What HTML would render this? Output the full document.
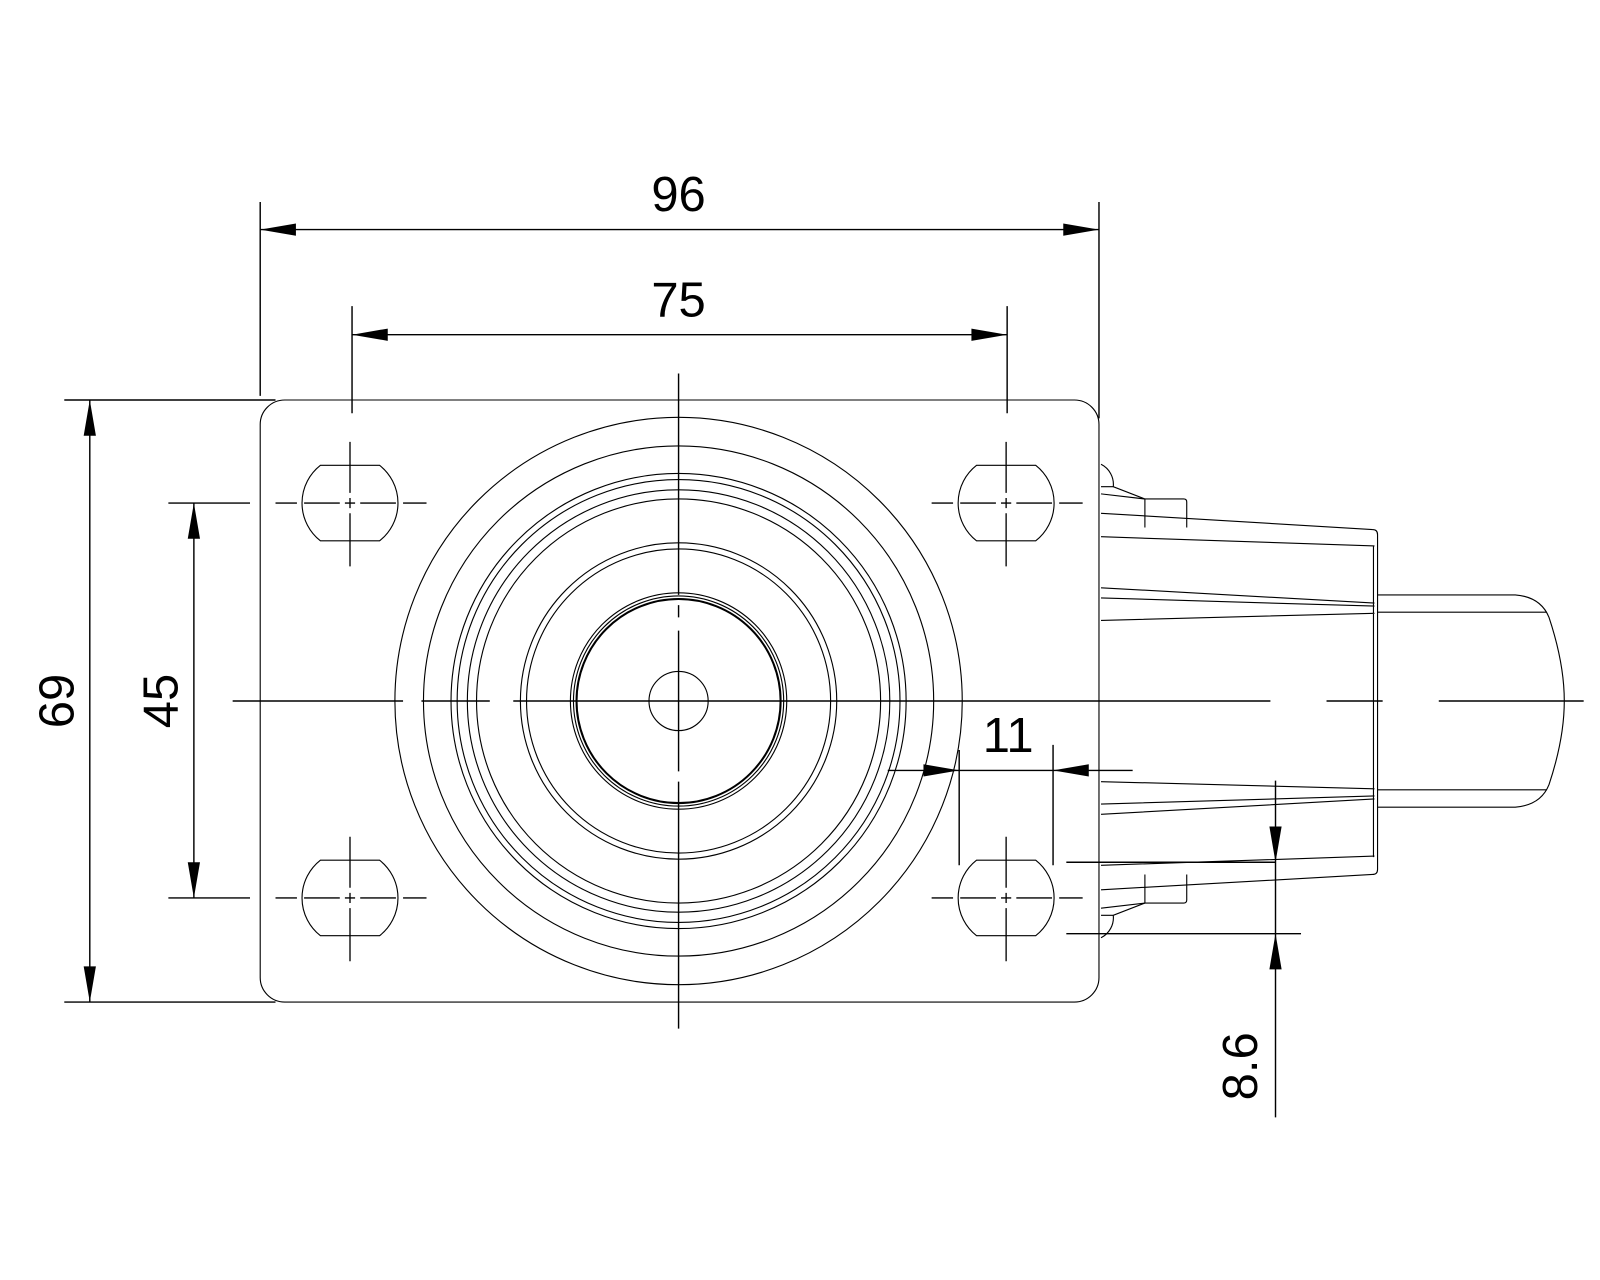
<!DOCTYPE html>
<html><head><style>html,body{margin:0;padding:0;background:#fff}svg{display:block}</style></head><body>
<svg width="1600" height="1280" viewBox="0 0 1568 1254.4" xmlns="http://www.w3.org/2000/svg">
<defs>
<g id="hole">
<path d="M-29,-37 L29,-37 A47,47 0 0 1 29,37 L-29,37 A47,47 0 0 1 -29,-37 Z" fill="none" stroke="#000" stroke-width="1.1"/>
<path d="M-73,0 H-52 M-45,0 H-10 M-5,0 H5 M10,0 H45 M52,0 H75 M0,-60 V-10 M0,-5 V5 M0,10 V62" stroke="#000" stroke-width="1.3" fill="none"/>
</g>
</defs>
<g fill="none" stroke="#000" stroke-width="1.1">
<rect x="255" y="392" width="822" height="590" rx="24"/>
<circle cx="665" cy="687" r="278"/>
<circle cx="665" cy="687" r="250"/>
<circle cx="665" cy="687" r="223"/>
<circle cx="665" cy="687" r="217"/>
<circle cx="665" cy="687" r="207"/>
<circle cx="665" cy="687" r="198"/>
<circle cx="665" cy="687" r="155"/>
<circle cx="665" cy="687" r="149"/>
<circle cx="665" cy="687" r="106"/>
<circle cx="665" cy="687" r="103"/>
<circle cx="665" cy="687" r="100" stroke-width="2"/>
<circle cx="665" cy="687" r="29"/>
</g>
<use href="#hole" x="343" y="493"/>
<use href="#hole" x="986" y="493"/>
<use href="#hole" x="343" y="880"/>
<use href="#hole" x="986" y="880"/>
<!-- fork -->
<g fill="none" stroke="#000" stroke-width="1.1">
<path d="M1079,455 A22,22 0 0 1 1091,477 M1079,919 A22,22 0 0 0 1091,897"/>
<path d="M1079,477 H1091 L1122,489 H1160 Q1163,489 1163,492 V517"/>
<path d="M1079,484 L1122,489 V517"/>
<path d="M1079,897 H1091 L1122,885 H1160 Q1163,885 1163,882 V857"/>
<path d="M1079,890 L1122,885 V857"/>
<path d="M1079,503 L1345,519 Q1350,519 1350,524 V852 Q1350,857 1345,857 L1079,872"/>
<path d="M1079,526 L1347,535 M1079,576 L1347,591 M1079,586 L1347,594 M1079,608 L1347,601 M1346,535 V840"/>
<path d="M1079,848 L1347,839 M1079,798 L1347,783 M1079,788 L1347,780 M1079,766 L1347,773"/>
<path d="M1350,583 H1485 Q1510,585 1518,605 Q1533,650 1533,687 Q1533,724 1518,769 Q1510,789 1485,791 H1350"/>
<path d="M1350,600 H1516 M1350,774 H1516"/>
</g>
<!-- centerlines -->
<g stroke="#000" stroke-width="1.4" fill="none">
<path d="M228,687 H395 M413,687 H480 M503,687 H1245 M1300,687 H1355 M1410,687 H1552"/>
<path d="M665,366 V583 M665,593 V605 M665,618 V756 M665,766 V1008"/>
<!-- extension lines -->
<path d="M255,198 V388 M1077,198 V410 M345,300 V405 M987,300 V405"/>
<path d="M63,392 H270 M63,982 H270 M165,493 H245 M165,880 H245"/>
<path d="M940,735 V848 M1032,730 V848"/>
<path d="M1045,845 H1250 M1045,915 H1275"/>
<!-- dim lines -->
<path d="M255,225 H1077 M345,328 H987 M88,392 V982 M190,493 V880 M870,755 H940 M1032,755 H1110 M940,755 H1032 M1250,765 V1095"/>
</g>
<g fill="#000">
<path d="M255,225 l35,-6 v12z M1077,225 l-35,-6 v12z"/>
<path d="M345,328 l35,-6 v12z M987,328 l-35,-6 v12z"/>
<path d="M88,392 l-6,35 h12z M88,982 l-6,-35 h12z"/>
<path d="M190,493 l-6,35 h12z M190,880 l-6,-35 h12z"/>
<path d="M940,755 l-35,-6 v12z M1032,755 l35,-6 v12z"/>
<path d="M1250,845 l-6,-35 h12z M1250,915 l-6,35 h12z"/>
</g>
<g font-family="Liberation Sans, sans-serif" font-size="48" fill="#000" text-anchor="middle">
<text x="665" y="207">96</text>
<text x="665" y="310">75</text>
<text x="988" y="737">11</text>
<text transform="translate(72,687) rotate(-90)">69</text>
<text transform="translate(174,687) rotate(-90)">45</text>
<text transform="translate(1232,1045) rotate(-90)">8.6</text>
</g>
</svg>
</body></html>
